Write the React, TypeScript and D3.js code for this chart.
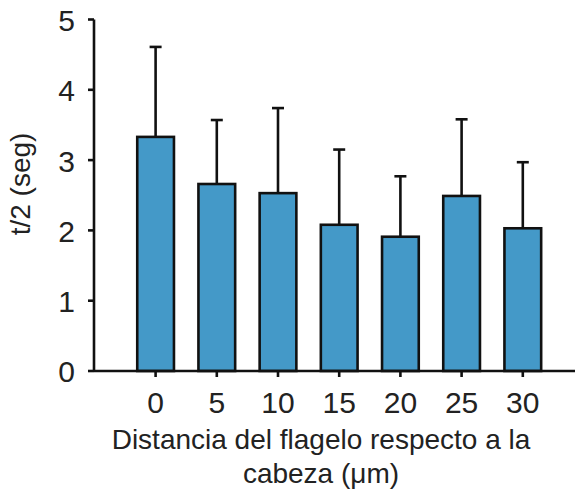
import React from "react";
import * as d3 from "d3";

const categories = ["0", "5", "10", "15", "20", "25", "30"];
const means = [3.33, 2.66, 2.53, 2.08, 1.91, 2.49, 2.03];
const upper = [4.61, 3.57, 3.74, 3.15, 2.77, 3.58, 2.97];
const yTicks = [0, 1, 2, 3, 4, 5];

export default function App() {
  const W = 576, H = 491;
  const axisX = 94, axisY = 371;
  const y = d3.scaleLinear().domain([0, 5]).range([371, 19.5]);
  const x = d3.scaleBand<string>().domain(categories).range([125, 553.4]).paddingInner(0.4).paddingOuter(0.2);
  const bw = x.bandwidth();
  const font = "'Liberation Sans', Arial, Helvetica, sans-serif";
  const sw = 2.6;
  return (
    <svg width={W} height={H} style={{ position: "absolute", left: 0, top: 0 }} fontFamily={font}>
      <rect width={W} height={H} fill="#fff" />
      {categories.map((c, i) => {
        const cx = (x(c) as number) + bw / 2;
        return (
          <g key={c}>
            <line x1={cx} x2={cx} y1={y(means[i])} y2={y(upper[i])} stroke="#111" strokeWidth={sw} />
            <line x1={cx - 6} x2={cx + 6} y1={y(upper[i])} y2={y(upper[i])} stroke="#111" strokeWidth={sw} />
            <rect x={x(c)} y={y(means[i])} width={bw} height={y(0) - y(means[i])} fill="#4499c8" stroke="#111" strokeWidth={sw} />
          </g>
        );
      })}
      <line x1={axisX} x2={axisX} y1={y(5)} y2={axisY} stroke="#111" strokeWidth={sw} />
      <line x1={axisX} x2={575} y1={axisY} y2={axisY} stroke="#111" strokeWidth={sw} />
      {yTicks.map((t) => (
        <g key={t}>
          <line x1={axisX - 6} x2={axisX} y1={y(t)} y2={y(t)} stroke="#111" strokeWidth={sw} />
          <text x={75} y={y(t)} dy="0.38em" textAnchor="end" fontSize={30} fill="#222">{t}</text>
        </g>
      ))}
      {categories.map((c) => {
        const cx = (x(c) as number) + bw / 2;
        return (
          <g key={"t" + c}>
            <line x1={cx} x2={cx} y1={axisY} y2={axisY + 6} stroke="#111" strokeWidth={sw} />
            <text x={cx} y={413} textAnchor="middle" fontSize={30} fill="#222">{c}</text>
          </g>
        );
      })}
      <text x={321} y={449} textAnchor="middle" fontSize={28} fill="#222">Distancia del flagelo respecto a la</text>
      <text x={321} y={483} textAnchor="middle" fontSize={28} fill="#222">cabeza (μm)</text>
      <text transform="translate(30,184) rotate(-90)" textAnchor="middle" fontSize={28} fill="#222">t/2 (seg)</text>
    </svg>
  );
}
